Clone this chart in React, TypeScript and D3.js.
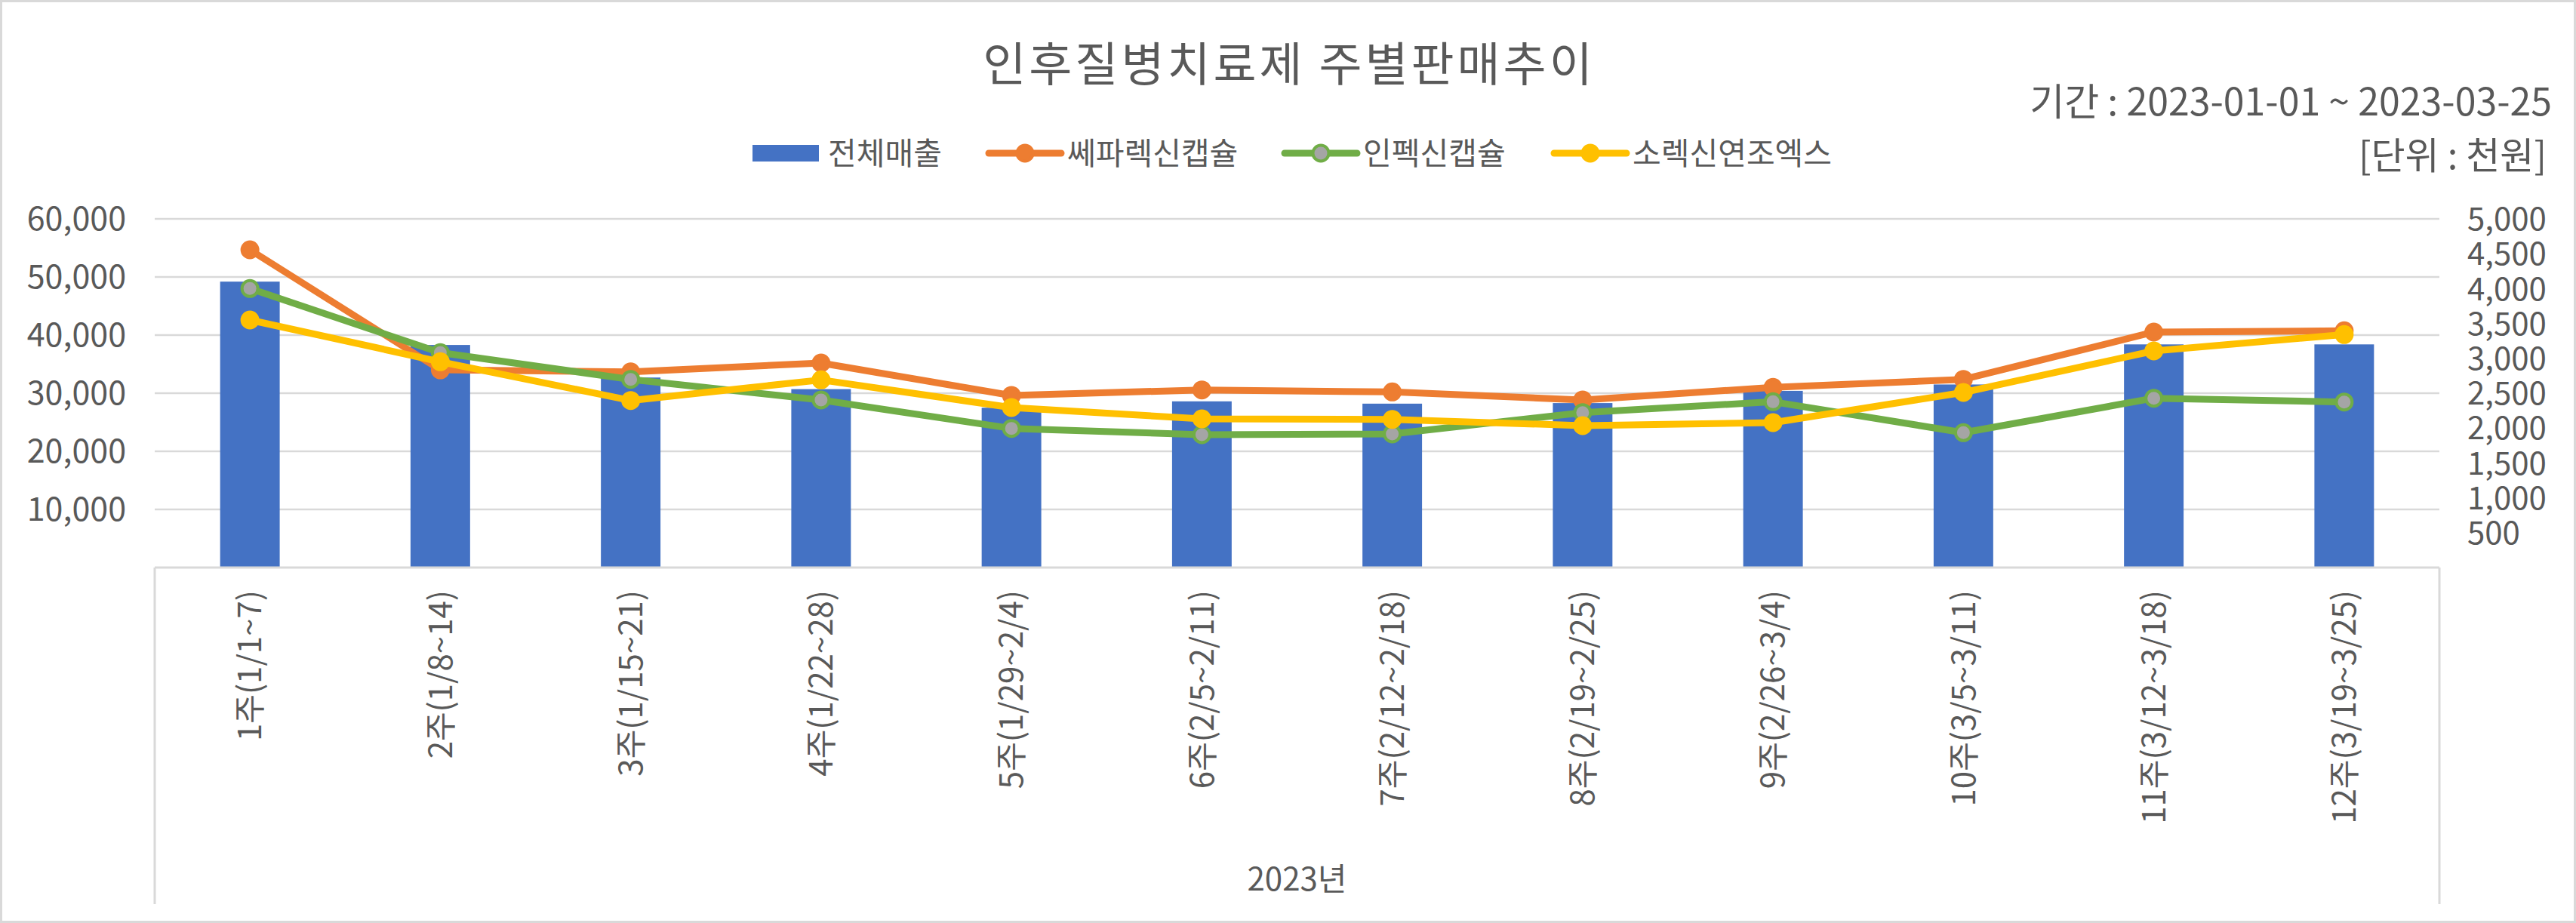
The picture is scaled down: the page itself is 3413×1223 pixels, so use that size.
import React from "react";
import * as d3 from "d3";

const categories = [
  "1주(1/1~7)", "2주(1/8~14)", "3주(1/15~21)", "4주(1/22~28)", "5주(1/29~2/4)", "6주(2/5~2/11)",
  "7주(2/12~2/18)", "8주(2/19~2/25)", "9주(2/26~3/4)", "10주(3/5~3/11)", "11주(3/12~3/18)", "12주(3/19~3/25)",
];
const totalSales = [49200, 38300, 32700, 30700, 27500, 28600, 28200, 28300, 30400, 31500, 38400, 38400];
const sepharexin = [4556, 2835, 2806, 2933, 2468, 2547, 2518, 2403, 2583, 2698, 3377, 3395];
const infexin = [4001, 3081, 2698, 2403, 1995, 1905, 1916, 2222, 2377, 1934, 2428, 2374];
const sorexin = [3550, 2951, 2395, 2691, 2294, 2132, 2125, 2035, 2078, 2511, 3106, 3341];
const leftTicks = [10000, 20000, 30000, 40000, 50000, 60000];
const rightTicks = [500, 1000, 1500, 2000, 2500, 3000, 3500, 4000, 4500, 5000];
const seriesNames = ["전체매출", "쎄파렉신캡슐", "인펙신캡슐", "소렉신연조엑스"];
const title = "인후질병치료제 주별판매추이";
const periodText = "기간 : 2023-01-01 ~ 2023-03-25";
const unitText = "[단위 : 천원]";
const yearLabel = "2023년";

const W = 3413, H = 1223;
const PL = 205, PR = 3232, PT = 290, PB = 752;
const FONT = "'Noto Sans CJK KR', 'Noto Sans', sans-serif";
const TXT = "#595959";
const GRID = "#D9D9D9";

const lineSeries = [
  { name: seriesNames[1], values: sepharexin, color: "#ED7D31", fill: "#ED7D31" },
  { name: seriesNames[2], values: infexin, color: "#70AD47", fill: "#A5A5A5" },
  { name: seriesNames[3], values: sorexin, color: "#FFC000", fill: "#FFC000" },
];

export default function App() {
  const x = d3.scaleBand<string>().domain(categories).range([PL, PR]).padding(0);
  const yL = d3.scaleLinear().domain([0, 60000]).range([PB, PT]);
  const yR = d3.scaleLinear().domain([0, 5000]).range([PB, PT]);
  const fmt = d3.format(",");
  const bw = x.bandwidth() * 0.313;
  const cx = (c: string) => (x(c) as number) + x.bandwidth() / 2;
  const line = d3
    .line<number>()
    .x((_, i) => cx(categories[i]))
    .y((d) => yR(d));

  const legendX = [997, 1310, 1702, 2059];
  const legendY = 203;

  return (
    <svg
      width={W}
      height={H}
      style={{ position: "fixed", left: 0, top: 0, background: "#fff" }}
      fontFamily={FONT}
    >
      <rect x={1.5} y={1.5} width={W - 3} height={H - 3} fill="#fff" stroke={GRID} strokeWidth={3} />
      <text x={1708} y={108} textAnchor="middle" fontSize={62} letterSpacing={4} fill={TXT}>{title}</text>
      <text x={3381} y={153} textAnchor="end" fontSize={50} fill={TXT}>{periodText}</text>
      <text x={3374} y={224} textAnchor="end" fontSize={49} fill={TXT}>{unitText}</text>

      {/* legend */}
      <rect x={legendX[0]} y={legendY - 11} width={88} height={22} fill="#4472C4" />
      <text x={legendX[0] + 100} y={legendY} dy="0.36em" fontSize={41} fill={TXT}>{seriesNames[0]}</text>
      {lineSeries.map((s, i) => (
        <g key={s.name}>
          <line x1={legendX[i + 1]} x2={legendX[i + 1] + 96} y1={legendY} y2={legendY} stroke={s.color} strokeWidth={9} strokeLinecap="round" />
          <circle cx={legendX[i + 1] + 48} cy={legendY} r={10.5} fill={s.fill} stroke={s.color} strokeWidth={4} />
          <text x={legendX[i + 1] + 104} y={legendY} dy="0.36em" fontSize={41} fill={TXT}>{s.name}</text>
        </g>
      ))}

      {/* gridlines */}
      {leftTicks.map((t) => (
        <line key={t} x1={PL} x2={PR} y1={yL(t)} y2={yL(t)} stroke={GRID} strokeWidth={2.5} />
      ))}
      {leftTicks.map((t) => (
        <text key={"l" + t} x={167} y={yL(t)} dy="0.36em" textAnchor="end" fontSize={43} fill={TXT}>{fmt(t)}</text>
      ))}
      {rightTicks.map((t) => (
        <text key={"r" + t} x={3269} y={yR(t)} dy="0.36em" textAnchor="start" fontSize={42} fill={TXT}>{fmt(t)}</text>
      ))}

      {/* bars */}
      {categories.map((c, i) => (
        <rect key={c} x={cx(c) - bw / 2} y={yL(totalSales[i])} width={bw} height={PB - yL(totalSales[i])} fill="#4472C4" />
      ))}

      {/* axis + category box */}
      <line x1={PL} x2={PR} y1={PB} y2={PB} stroke={GRID} strokeWidth={3} />
      <line x1={PL} x2={PL} y1={PB} y2={1198} stroke={GRID} strokeWidth={3} />
      <line x1={PR} x2={PR} y1={PB} y2={1198} stroke={GRID} strokeWidth={3} />
      {categories.map((c) => (
        <text key={"c" + c} transform={`translate(${cx(c)},782) rotate(-90)`} textAnchor="end" dy="0.36em" fontSize={42} fill={TXT}>{c}</text>
      ))}
      <text x={(PL + PR) / 2} y={1180} textAnchor="middle" fontSize={42} fill={TXT}>{yearLabel}</text>

      {/* lines */}
      {lineSeries.map((s) => (
        <g key={"s" + s.name}>
          <path d={line(s.values) || ""} fill="none" stroke={s.color} strokeWidth={9} strokeLinejoin="round" strokeLinecap="round" />
          {s.values.map((v, i) => (
            <circle key={i} cx={cx(categories[i])} cy={yR(v)} r={10.5} fill={s.fill} stroke={s.color} strokeWidth={4} />
          ))}
        </g>
      ))}
    </svg>
  );
}
